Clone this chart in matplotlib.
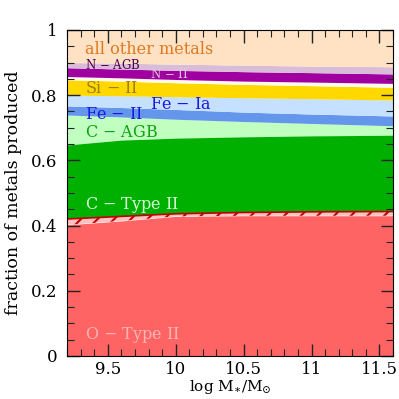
import matplotlib
matplotlib.use('Agg')
import matplotlib.pyplot as plt
import numpy as np

#=====================================================================
#     Data: cumulative fraction boundaries vs stellar mass
#
logM = [9.2, 9.6, 10.0, 10.5, 11.0, 11.6]

O_II_top   = [0.402, 0.414, 0.428, 0.430, 0.430, 0.430]
O_hat_top  = [0.420, 0.428, 0.436, 0.440, 0.442, 0.443]
C_II_top   = [0.647, 0.662, 0.668, 0.672, 0.675, 0.677]
C_AGB_top  = [0.739, 0.733, 0.726, 0.719, 0.713, 0.706]
Fe_II_top  = [0.767, 0.762, 0.756, 0.748, 0.742, 0.736]
Fe_Ia_top  = [0.800, 0.798, 0.795, 0.792, 0.789, 0.785]
Si_II_top  = [0.847, 0.843, 0.838, 0.833, 0.829, 0.824]
gap_top    = [0.857, 0.853, 0.848, 0.843, 0.840, 0.836]
N_II_top   = [0.884, 0.880, 0.876, 0.872, 0.869, 0.865]
N_AGB_top  = [0.900, 0.898, 0.895, 0.892, 0.889, 0.887]
other_top  = [1.0, 1.0, 1.0, 1.0, 1.0, 1.0]

textsize = 12
intext = 11.5
plt.rcParams['font.family'] = 'DejaVu Serif'
plt.rcParams['mathtext.fontset'] = 'dejavuserif'
plt.rcParams['hatch.color'] = '#c00000'
plt.rcParams['hatch.linewidth'] = 1.5

#=====================================================================
#     Plotting
#
fig = plt.figure(figsize=(3.99, 3.99), dpi=100)
ax = fig.add_axes([0.168, 0.108, 0.817, 0.817])

x = np.array(logM)
zero = np.zeros_like(x)

# (lower, upper, colour)
layers = [(zero,      O_II_top,  '#ff6464'),
          (C_II_top,  C_AGB_top, '#c0ffc0'),
          (O_hat_top, C_II_top,  '#00b000'),
          (C_AGB_top, Fe_II_top, '#6496ec'),
          (Fe_II_top, Fe_Ia_top, '#c6e0ff'),
          (Fe_Ia_top, Si_II_top, '#ffd800'),
          (Si_II_top, gap_top,   '#fffbe8'),
          (gap_top,   N_II_top,  '#a000a0'),
          (N_II_top,  N_AGB_top, '#d8bcd8'),
          (N_AGB_top, other_top, '#ffe2c4')]
for lo, hi, col in layers:
    ax.fill_between(x, lo, hi, color=col, lw=0)

# hatched O band
ax.fill_between(x, O_II_top, O_hat_top, facecolor='#ffc0c0', edgecolor='#c00000',
                hatch='//', lw=0)
ax.plot(x, O_hat_top, color='#c00000', lw=1.2)

# labels
lab = [(9.33, 0.94, 'all other metals', '#e07820', intext),
       (9.33, 0.893, 'N $-$ AGB', '#500050', 8.5),
       (9.81, 0.866, 'N $-$ II', '#e0c8e0', 8.5),
       (9.33, 0.820, 'Si $-$ II', '#a08010', intext),
       (9.81, 0.772, 'Fe $-$ Ia', '#1818e0', intext),
       (9.33, 0.742, 'Fe $-$ II', '#1818e0', intext),
       (9.33, 0.684, 'C $-$ AGB', '#10a010', intext),
       (9.33, 0.463, 'C $-$ Type II', '#d8ffd8', intext),
       (9.33, 0.064, 'O $-$ Type II', '#ffb4b4', intext)]
for lx, ly, s, c, fs in lab:
    ax.text(lx, ly, s, color=c, fontsize=fs, va='center', ha='left')

ax.set_xlim(9.2, 11.6)
ax.set_ylim(0, 1)
ax.set_xticks([9.5, 10, 10.5, 11, 11.5])
ax.set_xticklabels(['9.5', '10', '10.5', '11', '11.5'])
ax.set_xticks(np.arange(9.2, 11.61, 0.1), minor=True)
ax.set_yticks([0, 0.2, 0.4, 0.6, 0.8, 1])
ax.set_yticklabels(['0', '0.2', '0.4', '0.6', '0.8', '1'])
ax.set_yticks(np.arange(0, 1.001, 0.05), minor=True)
ax.tick_params(axis='both', which='both', direction='in', top=True, right=True,
               labelsize=textsize, color='#222222')
ax.tick_params(which='major', length=9, width=1)
ax.tick_params(axis='x', which='major', pad=4)
ax.tick_params(axis='y', which='major', pad=7)
ax.tick_params(which='minor', length=5, width=0.8)
ax.set_xlabel(r'log M$_{\ast}$/M$_{\odot}$', fontsize=11, labelpad=0)
ax.set_ylabel('fraction of metals produced', fontsize=12.5, labelpad=6)
for sp in ax.spines.values():
    sp.set_zorder(5)
ax.set_axisbelow(False)

fig.savefig('out.png', dpi=100)
